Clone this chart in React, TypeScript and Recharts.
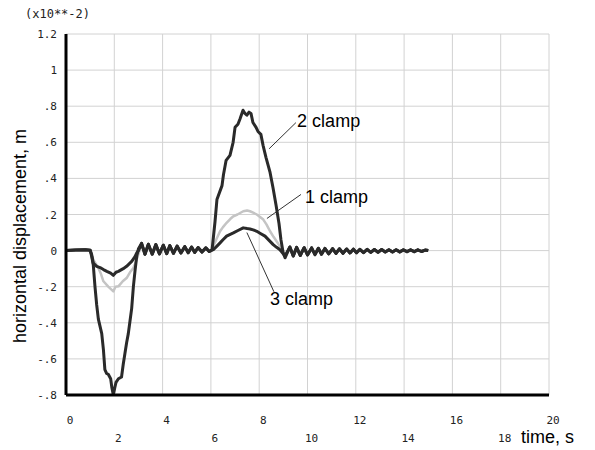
import React from "react";
import { LineChart, Line, XAxis, YAxis, CartesianGrid, ReferenceLine, ReferenceDot } from "recharts";

type P = [number, number];

const xTicks = [0, 2, 4, 6, 8, 10, 12, 14, 16, 18, 20];
const yTicks = [-0.8, -0.6, -0.4, -0.2, 0, 0.2, 0.4, 0.6, 0.8, 1, 1.2];

const startFlat: P[] = [[0, 0], [0.4, 0.003], [0.8, 0.005], [1.0, 0.002]];

const clamp2Dip: P[] = [
  [1.06, -0.03], [1.13, -0.08], [1.2, -0.2], [1.27, -0.3], [1.34, -0.38], [1.41, -0.42],
  [1.48, -0.46], [1.55, -0.55], [1.61, -0.66], [1.68, -0.68], [1.75, -0.685], [1.85, -0.71],
  [1.9, -0.76], [1.96, -0.8], [2.02, -0.76], [2.07, -0.73], [2.17, -0.71], [2.3, -0.7],
  [2.37, -0.63], [2.44, -0.57], [2.51, -0.51], [2.58, -0.46], [2.65, -0.39], [2.72, -0.32],
  [2.79, -0.2], [2.86, -0.11], [2.93, -0.03], [3.0, 0.01],
];
const clamp1Dip: P[] = [
  [1.13, -0.05], [1.34, -0.096], [1.45, -0.13], [1.55, -0.17], [1.75, -0.2], [1.96, -0.226],
  [2.05, -0.2], [2.17, -0.198], [2.35, -0.17], [2.51, -0.152], [2.65, -0.12], [2.79, -0.096],
  [2.9, -0.06], [3.0, -0.02],
];
const clamp3Dip: P[] = [
  [1.06, -0.02], [1.13, -0.07], [1.27, -0.087], [1.41, -0.094], [1.55, -0.105], [1.69, -0.115],
  [1.85, -0.125], [1.96, -0.137], [2.07, -0.12], [2.17, -0.115], [2.37, -0.1], [2.51, -0.087],
  [2.72, -0.06], [2.85, -0.035], [2.93, -0.013], [3.0, 0.0],
];

const oscA: P[] = [
  [3.13, 0.04], [3.27, -0.02], [3.41, 0.035], [3.57, -0.02], [3.72, 0.033], [3.87, -0.018],
  [4.03, 0.03], [4.17, -0.017], [4.3, 0.028], [4.45, -0.015], [4.6, 0.025], [4.76, -0.013],
  [4.92, 0.022], [5.06, -0.012], [5.2, 0.02], [5.33, -0.01], [5.47, 0.017], [5.63, -0.008],
  [5.79, 0.015], [5.93, -0.005],
];

const clamp2Peak: P[] = [
  [6.0, 0], [6.05, 0.006], [6.17, 0.16], [6.25, 0.283], [6.46, 0.36], [6.52, 0.42], [6.63, 0.5],
  [6.79, 0.528], [6.92, 0.6], [7.0, 0.683], [7.12, 0.7], [7.2, 0.728], [7.33, 0.778],
  [7.41, 0.76], [7.49, 0.75], [7.58, 0.767], [7.66, 0.76], [7.74, 0.71], [7.87, 0.683],
  [7.95, 0.66], [8.07, 0.644], [8.16, 0.583], [8.28, 0.517], [8.45, 0.433], [8.57, 0.35],
  [8.7, 0.25], [8.82, 0.15], [8.9, 0.06], [8.99, -0.01], [9.07, -0.04],
];
const clamp1Peak: P[] = [
  [6.0, 0], [6.1, 0.024], [6.25, 0.07], [6.38, 0.107], [6.5, 0.13], [6.65, 0.154], [6.8, 0.175],
  [6.93, 0.19], [7.1, 0.2], [7.34, 0.218], [7.5, 0.222], [7.62, 0.218], [7.75, 0.21], [7.9, 0.2],
  [8.05, 0.185], [8.17, 0.172], [8.3, 0.145], [8.45, 0.107], [8.6, 0.075], [8.72, 0.052],
  [8.85, 0.025], [8.93, 0.005], [9.07, -0.03],
];
const clamp3Peak: P[] = [
  [6.0, 0], [6.1, 0.005], [6.25, 0.025], [6.38, 0.043], [6.5, 0.06], [6.65, 0.08], [6.8, 0.09],
  [6.93, 0.098], [7.1, 0.11], [7.34, 0.126], [7.5, 0.122], [7.62, 0.12], [7.75, 0.115],
  [7.9, 0.107], [8.05, 0.095], [8.24, 0.08], [8.4, 0.058], [8.58, 0.033], [8.72, 0.018],
  [8.86, 0.005], [9.07, -0.03],
];

const oscB: P[] = [
  [9.27, 0.02], [9.41, -0.03], [9.55, 0.018], [9.7, -0.027], [9.86, 0.016], [10.0, -0.024],
  [10.17, 0.015], [10.31, -0.022], [10.45, 0.013], [10.58, -0.02], [10.72, 0.012], [10.88, -0.018],
  [11.04, 0.011], [11.18, -0.016], [11.32, 0.01], [11.47, -0.015], [11.62, 0.009], [11.76, -0.013],
  [11.9, 0.008], [12.03, -0.012], [12.17, 0.007], [12.32, -0.011], [12.47, 0.007], [12.62, -0.01],
  [12.77, 0.006], [12.92, -0.009], [13.07, 0.006], [13.22, -0.008], [13.37, 0.005], [13.52, -0.008],
  [13.67, 0.005], [13.82, -0.007], [13.97, 0.004], [14.12, -0.006], [14.27, 0.004], [14.42, -0.006],
  [14.57, 0.004], [14.72, -0.005], [14.87, 0.003], [15.0, 0],
];

const toRows = (parts: P[][]) => parts.flat().map(([t, v]) => ({ t, v }));
const clamp1 = toRows([startFlat, clamp1Dip, oscA, clamp1Peak, oscB]);
const clamp2 = toRows([startFlat, clamp2Dip, oscA, clamp2Peak, oscB]);
const clamp3 = toRows([startFlat, clamp3Dip, oscA, clamp3Peak, oscB]);

const annotations = [
  { name: "2 clamp", from: [9.52, 0.709], to: [8.41, 0.564], label: [9.57, 0.683] },
  { name: "1 clamp", from: [9.73, 0.311], to: [8.32, 0.178], label: [9.9, 0.261] },
  { name: "3 clamp", from: [7.49, 0.1], to: [8.61, -0.228], label: [8.45, -0.3] },
];

const DARK = "#2a2a2a";
const GRAY = "#c4c4c4";
const MONO = "'DejaVu Sans Mono', monospace";
const SANS = "'Liberation Sans', Arial, sans-serif";

const fmtY = (v: number) => String(Math.round(v * 10) / 10).replace(/^(-?)0\./, "$1.");

const YTick = (props: any) => {
  const { x, y, payload } = props;
  return (
    <text x={x - 9} y={y + 4} textAnchor="end" fontFamily={MONO} fontSize={11} fill="#222">
      {fmtY(payload.value)}
    </text>
  );
};

const XTick = (props: any) => {
  const { x, y, payload } = props;
  const row2 = Math.round(payload.value) % 4 !== 0;
  return (
    <text x={x + 4} y={y + (row2 ? 47 : 29)} textAnchor="middle" fontFamily={MONO} fontSize={11} fill="#222">
      {payload.value}
    </text>
  );
};

export default function App() {
  return (
    <div style={{ position: "relative", width: 595, height: 450, background: "#fff" }}>
      <style>{"body{margin:0;background:#fff}"}</style>
      <LineChart width={595} height={450} margin={{ top: 34, right: 46, bottom: 5, left: 0 }}>
        <CartesianGrid stroke="#d2d2d2" strokeWidth={1} />
        <XAxis
          type="number"
          dataKey="t"
          domain={[0, 20]}
          ticks={xTicks}
          interval={0}
          height={50}
          allowDataOverflow
          axisLine={{ stroke: "#000", strokeWidth: 3 }}
          tickLine={false}
          tickSize={0}
          tickMargin={0}
          tick={<XTick />}
        />
        <YAxis
          type="number"
          domain={[-0.8, 1.2]}
          ticks={yTicks}
          interval={0}
          width={66}
          allowDataOverflow
          axisLine={{ stroke: "#000", strokeWidth: 3 }}
          tickLine={false}
          tickSize={0}
          tickMargin={0}
          tick={<YTick />}
        />
        {annotations.map((a) => (
          <ReferenceLine
            key={a.name + "-l"}
            segment={[{ x: a.from[0], y: a.from[1] }, { x: a.to[0], y: a.to[1] }]}
            stroke="#333"
            strokeWidth={1}
          />
        ))}
        <Line data={clamp1} dataKey="v" type="linear" stroke={GRAY} strokeWidth={2.5} dot={false} isAnimationActive={false} strokeLinejoin="round" />
        <Line data={clamp3} dataKey="v" type="linear" stroke={DARK} strokeWidth={3} dot={false} isAnimationActive={false} strokeLinejoin="round" />
        <Line data={clamp2} dataKey="v" type="linear" stroke={DARK} strokeWidth={3} dot={false} isAnimationActive={false} strokeLinejoin="round" />
        {annotations.map((a) => (
          <ReferenceDot
            key={a.name + "-t"}
            x={a.label[0]}
            y={a.label[1]}
            r={0}
            shape={(p: any) => (
              <text x={p.cx} y={p.cy} fontFamily={SANS} fontSize={18} fill="#000">
                {a.name}
              </text>
            )}
          />
        ))}
      </LineChart>
      <svg width={595} height={450} style={{ position: "absolute", left: 0, top: 0, pointerEvents: "none" }}>
        <text x={25} y={18} fontFamily={MONO} fontSize={12} fill="#222">(x10**-2)</text>
        <text x={25.5} y={236} transform="rotate(-90 25.5 236)" textAnchor="middle" fontFamily={SANS} fontSize={18} fill="#000">
          horizontal displacement, m
        </text>
        <text x={521} y={443} fontFamily={SANS} fontSize={18} fill="#000">time, s</text>
      </svg>
    </div>
  );
}
